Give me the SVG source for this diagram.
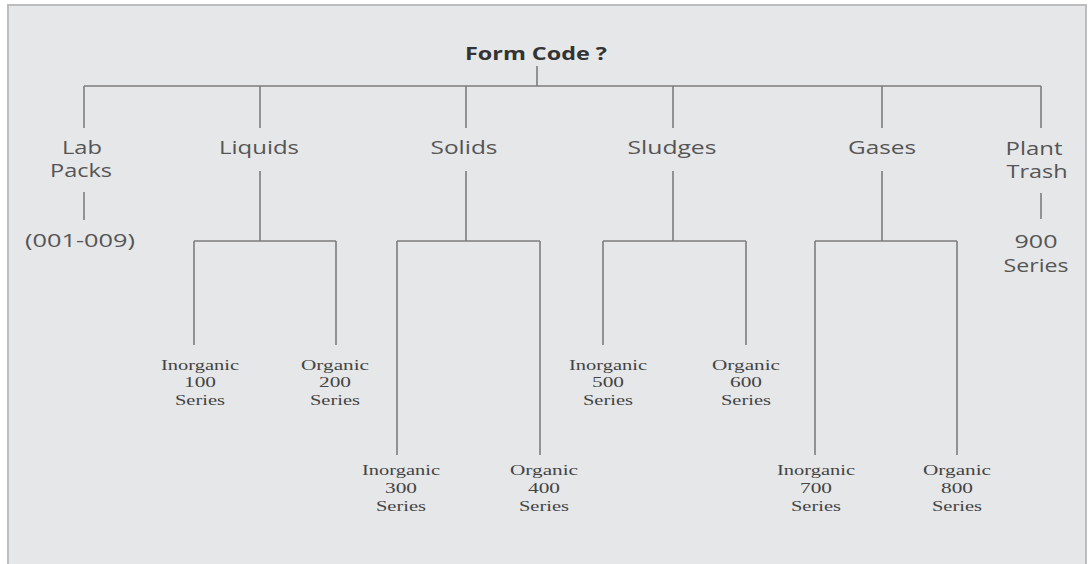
<svg xmlns="http://www.w3.org/2000/svg" width="1091" height="564" viewBox="0 0 1091 564">
<style>
.ln{stroke:#7d7d7d;stroke-width:1.6;fill:none}
.t{font-family:"Open Sans","Liberation Sans",sans-serif;font-size:18px;fill:#555;text-anchor:middle}
.b{font-family:"Open Sans","Liberation Sans",sans-serif;font-size:17px;font-weight:bold;fill:#333;text-anchor:middle}
.s{font-family:"Liberation Serif",serif;font-size:15px;fill:#444;text-anchor:middle}
</style>
<rect x="0" y="0" width="1091" height="564" fill="#ffffff"/>
<rect x="8" y="5" width="1078" height="562" fill="#e6e7e9" stroke="#bdbdbd" stroke-width="2"/>
<g id="connectors" class="ln">
<path d="M537 66V86M84 86H1041M84 86V128M260 86V128M466 86V128M673 86V128M882 86V128M1041 86V128"/>
<path d="M84 192V220M1041 193V219"/>
<path d="M260 171V241M194 241H336M194 241V345M336 241V345"/>
<path d="M466 171V241M397 241H540M397 241V455M540 241V455"/>
<path d="M673 171V241M603 241H746M603 241V345M746 241V345"/>
<path d="M882 171V241M815 241H957M815 241V455M957 241V455"/>
</g>
<g id="root"><text class="b" x="536" y="60" textLength="142" lengthAdjust="spacingAndGlyphs">Form Code ?</text></g>
<g id="labpacks"><text class="t" x="82" y="154" textLength="40" lengthAdjust="spacingAndGlyphs">Lab</text><text class="t" x="81" y="177" textLength="62" lengthAdjust="spacingAndGlyphs">Packs</text></g>
<g id="labcode"><text class="t" x="80" y="247" textLength="110" lengthAdjust="spacingAndGlyphs">(001-009)</text></g>
<g id="liquids"><text class="t" x="259" y="154" textLength="80" lengthAdjust="spacingAndGlyphs">Liquids</text></g>
<g id="solids"><text class="t" x="464" y="154" textLength="67" lengthAdjust="spacingAndGlyphs">Solids</text></g>
<g id="sludges"><text class="t" x="672" y="154" textLength="89" lengthAdjust="spacingAndGlyphs">Sludges</text></g>
<g id="gases"><text class="t" x="882" y="154" textLength="68" lengthAdjust="spacingAndGlyphs">Gases</text></g>
<g id="planttrash"><text class="t" x="1034" y="155" textLength="57" lengthAdjust="spacingAndGlyphs">Plant</text><text class="t" x="1037" y="178" textLength="61" lengthAdjust="spacingAndGlyphs">Trash</text></g>
<g id="s900"><text class="t" x="1036" y="248" textLength="43" lengthAdjust="spacingAndGlyphs">900</text><text class="t" x="1036" y="272" textLength="65" lengthAdjust="spacingAndGlyphs">Series</text></g>
<g id="s100"><text class="s" x="200" y="370" textLength="78" lengthAdjust="spacingAndGlyphs">Inorganic</text><text class="s" x="200" y="387" textLength="32" lengthAdjust="spacingAndGlyphs">100</text><text class="s" x="200" y="405" textLength="50" lengthAdjust="spacingAndGlyphs">Series</text></g>
<g id="s200"><text class="s" x="335" y="370" textLength="68" lengthAdjust="spacingAndGlyphs">Organic</text><text class="s" x="335" y="387" textLength="32" lengthAdjust="spacingAndGlyphs">200</text><text class="s" x="335" y="405" textLength="50" lengthAdjust="spacingAndGlyphs">Series</text></g>
<g id="s300"><text class="s" x="401" y="475" textLength="78" lengthAdjust="spacingAndGlyphs">Inorganic</text><text class="s" x="401" y="493" textLength="32" lengthAdjust="spacingAndGlyphs">300</text><text class="s" x="401" y="511" textLength="50" lengthAdjust="spacingAndGlyphs">Series</text></g>
<g id="s400"><text class="s" x="544" y="475" textLength="68" lengthAdjust="spacingAndGlyphs">Organic</text><text class="s" x="544" y="493" textLength="32" lengthAdjust="spacingAndGlyphs">400</text><text class="s" x="544" y="511" textLength="50" lengthAdjust="spacingAndGlyphs">Series</text></g>
<g id="s500"><text class="s" x="608" y="370" textLength="78" lengthAdjust="spacingAndGlyphs">Inorganic</text><text class="s" x="608" y="387" textLength="32" lengthAdjust="spacingAndGlyphs">500</text><text class="s" x="608" y="405" textLength="50" lengthAdjust="spacingAndGlyphs">Series</text></g>
<g id="s600"><text class="s" x="746" y="370" textLength="68" lengthAdjust="spacingAndGlyphs">Organic</text><text class="s" x="746" y="387" textLength="32" lengthAdjust="spacingAndGlyphs">600</text><text class="s" x="746" y="405" textLength="50" lengthAdjust="spacingAndGlyphs">Series</text></g>
<g id="s700"><text class="s" x="816" y="475" textLength="78" lengthAdjust="spacingAndGlyphs">Inorganic</text><text class="s" x="816" y="493" textLength="32" lengthAdjust="spacingAndGlyphs">700</text><text class="s" x="816" y="511" textLength="50" lengthAdjust="spacingAndGlyphs">Series</text></g>
<g id="s800"><text class="s" x="957" y="475" textLength="68" lengthAdjust="spacingAndGlyphs">Organic</text><text class="s" x="957" y="493" textLength="32" lengthAdjust="spacingAndGlyphs">800</text><text class="s" x="957" y="511" textLength="50" lengthAdjust="spacingAndGlyphs">Series</text></g>
</svg>
